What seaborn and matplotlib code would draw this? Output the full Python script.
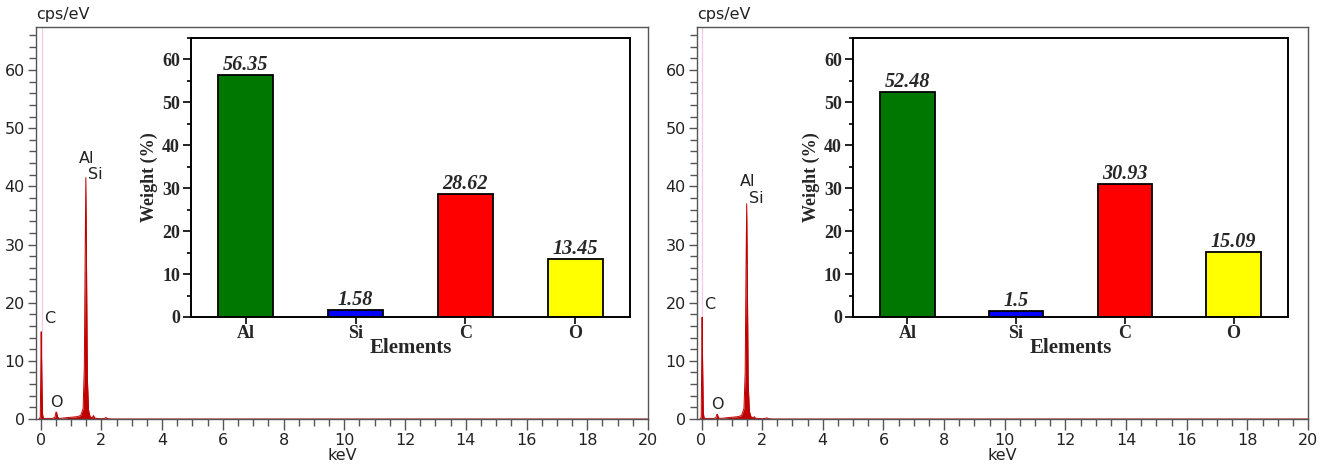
import numpy as np
import matplotlib
matplotlib.use("Agg")
import matplotlib.pyplot as plt
import seaborn as sns
from matplotlib.ticker import MultipleLocator

# EDS spectrum points (keV, cps/eV)
kev = [-0.05, -0.01, 0.01, 0.02, 0.035, 0.06, 0.09, 0.2, 0.4, 0.47, 0.51, 0.53, 0.56,
       0.62, 0.8, 1.0, 1.2, 1.32, 1.40, 1.44, 1.47, 1.49, 1.51, 1.54, 1.58, 1.63,
       1.70, 1.74, 1.78, 1.85, 2.0, 2.1, 2.15, 2.22, 2.35, 3.0, 20.0]
counts_a = [0.0, 0.3, 10.0, 15.0, 9.0, 1.0, 0.1, 0.1, 0.1, 0.3, 1.2, 1.1, 0.3,
            0.1, 0.2, 0.3, 0.4, 0.6, 1.8, 9.0, 30.0, 41.5, 28.0, 7.0, 1.5, 0.4,
            0.2, 0.6, 0.2, 0.1, 0.05, 0.1, 0.25, 0.05, 0.0, 0.0, 0.0]
counts_b = [0.0, 0.3, 12.0, 17.5, 10.0, 1.0, 0.1, 0.1, 0.1, 0.2, 0.8, 0.7, 0.2,
            0.1, 0.2, 0.3, 0.4, 0.6, 1.8, 8.0, 27.0, 37.0, 25.0, 6.0, 1.3, 0.4,
            0.2, 0.4, 0.15, 0.1, 0.05, 0.1, 0.2, 0.05, 0.0, 0.0, 0.0]

# inset composition
elements = ["Al", "Si", "C", "O"]
weight_a = [56.35, 1.58, 28.62, 13.45]
weight_b = [52.48, 1.5, 30.93, 15.09]
weight_a_txt = ["56.35", "1.58", "28.62", "13.45"]
weight_b_txt = ["52.48", "1.5", "30.93", "15.09"]
bar_colors = ["#007800", "#0000ff", "#ff0000", "#ffff00"]

# peak label positions (keV, cps/eV)
peak_names = ["C", "O", "Al", "Si"]
peak_pos_a = [(0.1, 16.0), (0.33, 1.6), (1.27, 43.5), (1.55, 40.8)]
peak_pos_b = [(0.1, 18.4), (0.33, 1.2), (1.27, 39.5), (1.55, 36.6)]

sns.set_style("ticks")
plt.rcParams["font.family"] = ["DejaVu Sans"]

fig = plt.figure(figsize=(13.2, 4.71), dpi=100)

spec_boxes = [[0.0273, 0.1104, 0.4636, 0.8323], [0.528, 0.1104, 0.4629, 0.8323]]
inset_boxes = [[0.1447, 0.327, 0.3326, 0.5924], [0.6462, 0.327, 0.3295, 0.5924]]
spec_c = "#c00000"
frame_c = "#555555"
serif = "Liberation Serif"

panels = [(counts_a, weight_a, weight_a_txt, peak_pos_a),
          (counts_b, weight_b, weight_b_txt, peak_pos_b)]

for i, (counts, weight, weight_txt, peak_pos) in enumerate(panels):
    ax = fig.add_axes(spec_boxes[i])
    ax.axvline(0.03, color="#f4c8ec", lw=0.9, zorder=0)
    ax.fill_between(kev, counts, color=spec_c, lw=0)
    sns.lineplot(x=kev, y=counts, color=spec_c, lw=0.7, ax=ax, sort=False)
    ax.set_xlim(-0.15, 20)
    ax.set_ylim(0, 67.4)
    ax.xaxis.set_major_locator(MultipleLocator(2))
    ax.xaxis.set_minor_locator(MultipleLocator(0.5))
    ax.yaxis.set_major_locator(MultipleLocator(10))
    ax.yaxis.set_minor_locator(MultipleLocator(2))
    ax.tick_params(axis="both", which="both", color=frame_c, width=1.0,
                   labelsize=11.5, labelcolor="#222222", direction="out", pad=2)
    ax.tick_params(axis="x", which="major", length=8)
    ax.tick_params(axis="x", which="minor", length=5)
    ax.tick_params(axis="y", which="major", length=6)
    ax.tick_params(axis="y", which="minor", length=5)
    for s in ax.spines.values():
        s.set_color(frame_c)
        s.set_linewidth(1.0)
    ax.set_xlabel("keV", fontsize=11.5, color="#222222", labelpad=0)
    ax.set_ylabel("")
    ax.text(0.0, 1.012, "cps/eV", transform=ax.transAxes, fontsize=11.5,
            color="#222222", ha="left", va="bottom")
    for name, (px, py) in zip(peak_names, peak_pos):
        ax.text(px, py, name, fontsize=11.5, color="#222222", ha="left", va="bottom")

    # inset bar chart
    ins = fig.add_axes(inset_boxes[i])
    sns.barplot(x=elements, y=weight, hue=elements, palette=bar_colors, width=0.5,
                edgecolor="black", linewidth=1.3, legend=False, ax=ins, saturation=1)
    for cont, txt in zip(ins.containers, weight_txt):
        ins.bar_label(cont, labels=[txt], padding=0, fontsize=14.5,
                      fontweight="bold", fontstyle="italic", family=serif)
    ins.set_xlim(-0.5, 3.5)
    ins.set_ylim(0, 65)
    ins.yaxis.set_major_locator(MultipleLocator(10))
    ins.yaxis.set_minor_locator(MultipleLocator(5))
    ins.tick_params(axis="both", which="both", direction="out", color="black", width=1.2)
    ins.tick_params(axis="y", which="major", length=6, pad=2)
    ins.tick_params(axis="y", which="minor", length=3)
    ins.tick_params(axis="x", length=5, pad=1)
    for lab in ins.get_xticklabels() + ins.get_yticklabels():
        lab.set_fontfamily(serif)
        lab.set_fontweight("bold")
        lab.set_fontsize(13)
    for s in ins.spines.values():
        s.set_visible(True)
        s.set_color("black")
        s.set_linewidth(1.4)
    ins.set_xlabel("Elements", fontsize=15, fontweight="bold",
                   family=serif, labelpad=-3)
    ins.set_ylabel("Weight (%)", fontsize=13, fontweight="bold",
                   family=serif, labelpad=3)

fig.savefig("out.png", dpi=100)
